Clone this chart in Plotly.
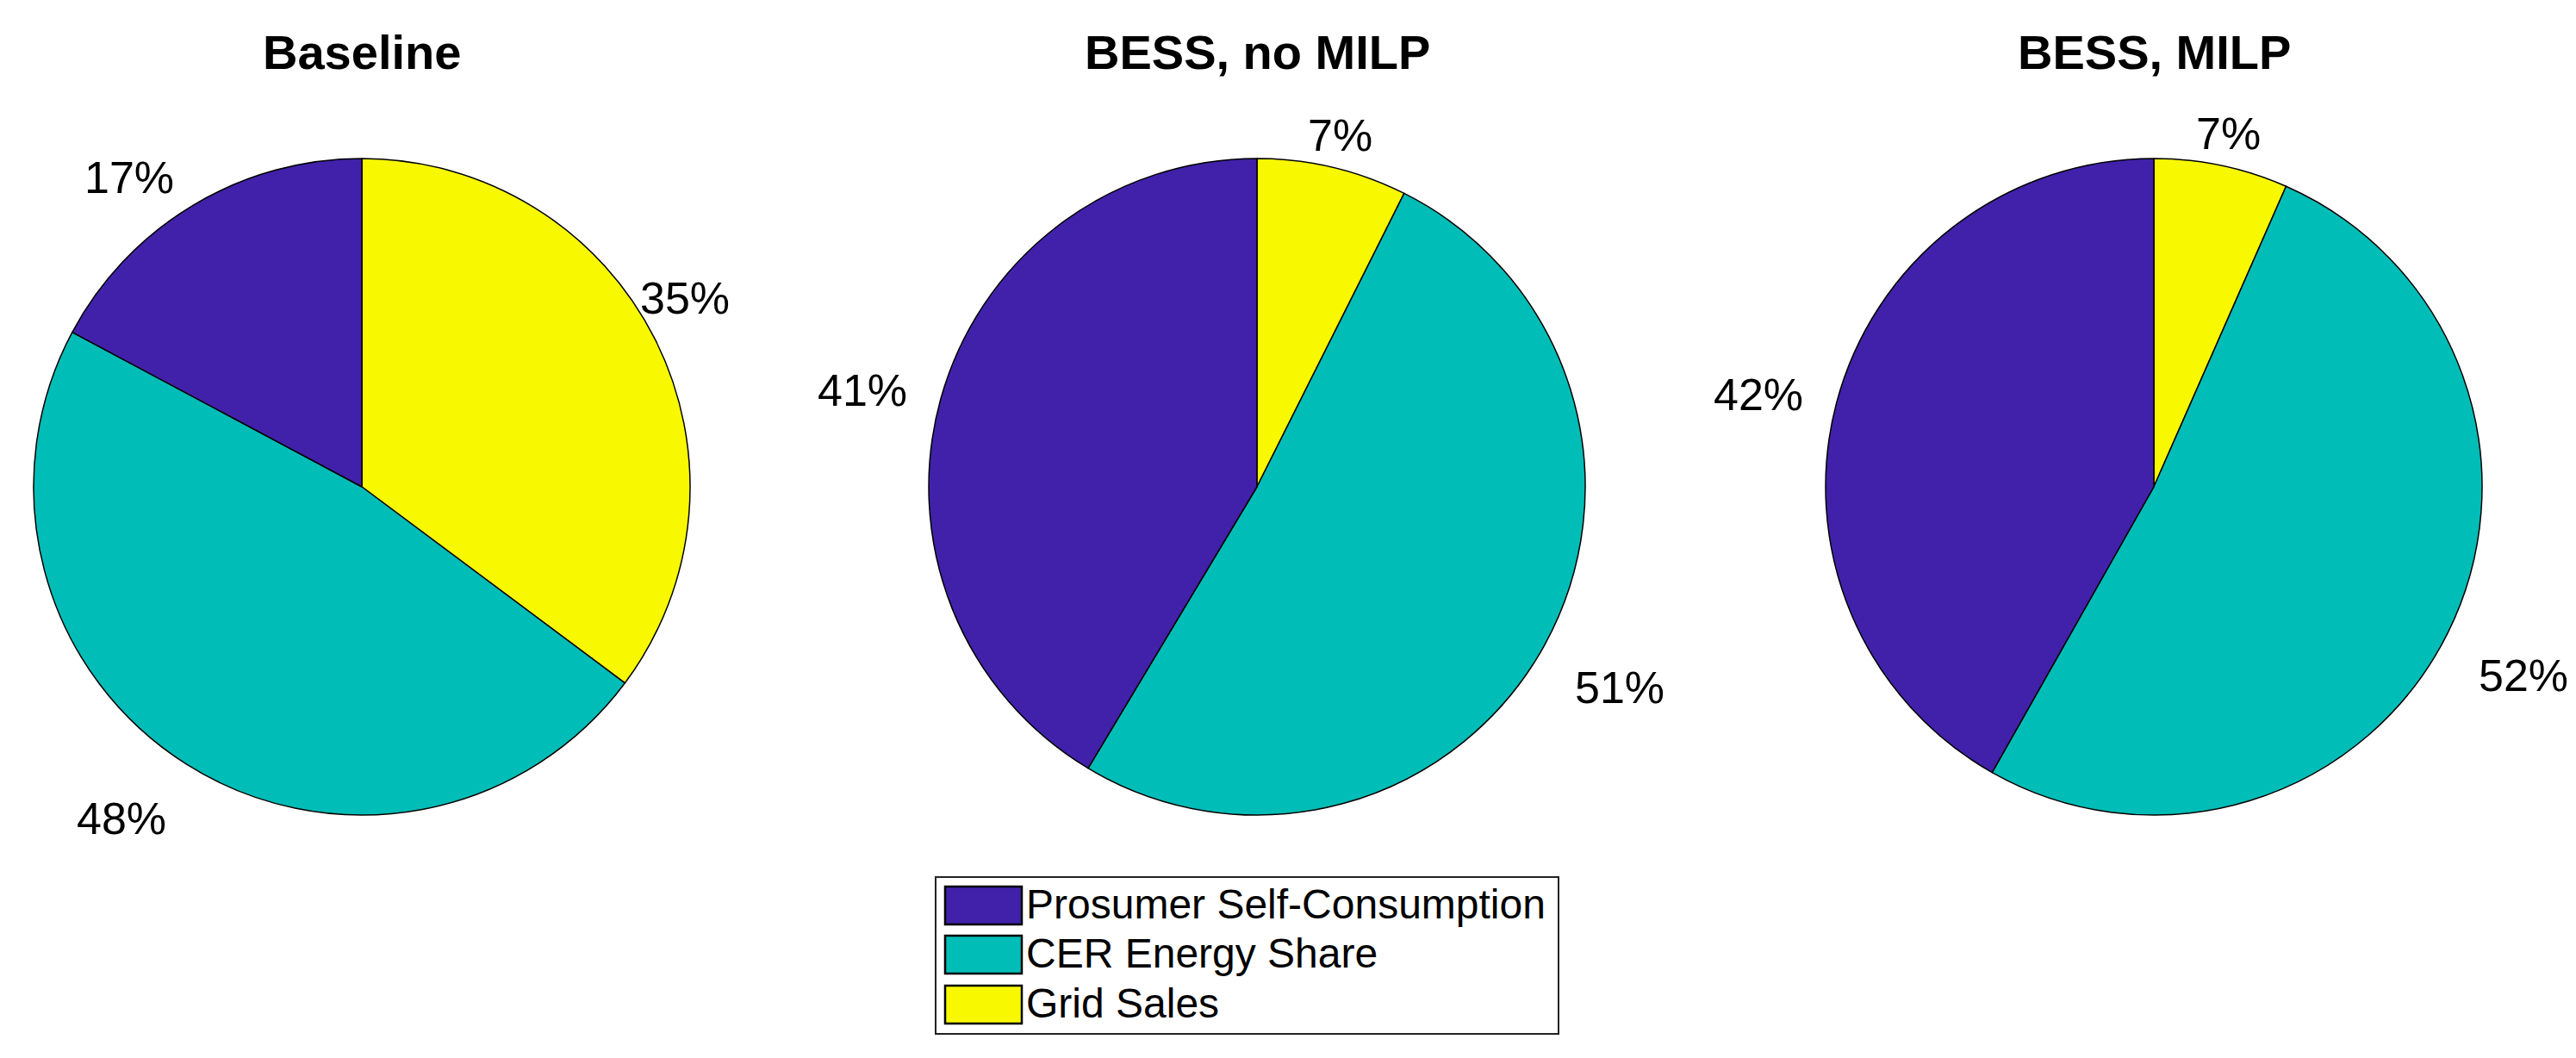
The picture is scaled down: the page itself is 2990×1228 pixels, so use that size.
import numpy as np
import plotly.graph_objects as go

# data (percent of PV energy)
titles = ["Baseline", "BESS, no MILP", "BESS, MILP"]
categories = ["Prosumer Self-Consumption", "CER Energy Share", "Grid Sales"]
baseline = [17.2, 47.6, 35.2]
bess_no_milp = [41.4, 51.2, 7.4]
bess_milp = [41.8, 51.6, 6.6]
colors = ["#4121a9", "#00bdb7", "#f8f800"]

W, H = 2990, 1228
FONT = "Liberation Sans, Arial, Helvetica, sans-serif"

# pie placement in pixels
centers_x = [412, 1451, 2492]
center_y = 557
radius = 381

# how each percent label hangs off its anchor point (like matlab does)
label_anchors = [
    [("right", "middle"), ("right", "top"), ("center", "bottom")],
    [("right", "middle"), ("left", "top"), ("center", "middle")],
    [("right", "middle"), ("left", "top"), ("center", "middle")],
]

fig = go.Figure()
annotations = []

for k, vals in enumerate([baseline, bess_no_milp, bess_milp]):
    cx = centers_x[k]
    # matlab goes counterclockwise from 12 o'clock; plotly's ccw mode doesn't,
    # so draw clockwise with the slices reversed
    fig.add_trace(go.Pie(
        labels=categories[::-1], values=vals[::-1], sort=False,
        direction="clockwise", rotation=0,
        marker=dict(colors=colors[::-1], line=dict(color="black", width=1.5)),
        textinfo="none", hoverinfo="label+percent", showlegend=False,
        domain=dict(x=[(cx - radius) / W, (cx + radius) / W],
                    y=[1 - (center_y + radius) / H, 1 - (center_y - radius) / H]),
    ))

    # title
    annotations.append(dict(
        x=cx / W, y=1 - 52 / H, xref="paper", yref="paper",
        text="<b>" + titles[k] + "</b>", showarrow=False,
        xanchor="center", yanchor="middle",
        font=dict(family=FONT, size=56, color="black"),
    ))

    # percent labels at 1.1 r along the middle of each slice
    vals = np.array(vals)
    frac = vals / vals.sum()
    mids = np.cumsum(frac) - frac / 2
    for i, m in enumerate(mids):
        th = 2 * np.pi * m
        px = cx - 1.1 * radius * np.sin(th)
        py = center_y - 1.1 * radius * np.cos(th)
        xa, ya = label_anchors[k][i]
        annotations.append(dict(
            x=px / W, y=1 - py / H, xref="paper", yref="paper",
            text=f"{int(round(vals[i]))}%", showarrow=False,
            xanchor=xa, yanchor=ya,
            font=dict(family=FONT, size=52, color="black"),
        ))

# legend drawn by hand so the swatches can be big like the matlab ones
box = dict(x0=1078, x1=1801, y0=1010, y1=1192)
row_y = [1043, 1100, 1158]
shapes = [dict(type="rect", xref="paper", yref="paper",
               x0=box["x0"] / W, x1=box["x1"] / W,
               y0=1 - box["y1"] / H, y1=1 - box["y0"] / H,
               line=dict(color="#222222", width=2), fillcolor="white", layer="above")]
for i, name in enumerate(categories):
    shapes.append(dict(type="rect", xref="paper", yref="paper",
                       x0=1089 / W, x1=1178 / W,
                       y0=1 - (row_y[i] + 22) / H, y1=1 - (row_y[i] - 22) / H,
                       line=dict(color="black", width=2.5), fillcolor=colors[i], layer="above"))
    annotations.append(dict(
        x=1181 / W, y=1 - (row_y[i] - 2) / H, xref="paper", yref="paper",
        text=name, showarrow=False, xanchor="left", yanchor="middle",
        font=dict(family=FONT, size=48, color="black"),
    ))

fig.update_layout(
    width=W, height=H,
    margin=dict(l=0, r=0, t=0, b=0),
    paper_bgcolor="white", plot_bgcolor="white",
    showlegend=False,
    annotations=annotations, shapes=shapes,
)

fig.write_html("out.html")
